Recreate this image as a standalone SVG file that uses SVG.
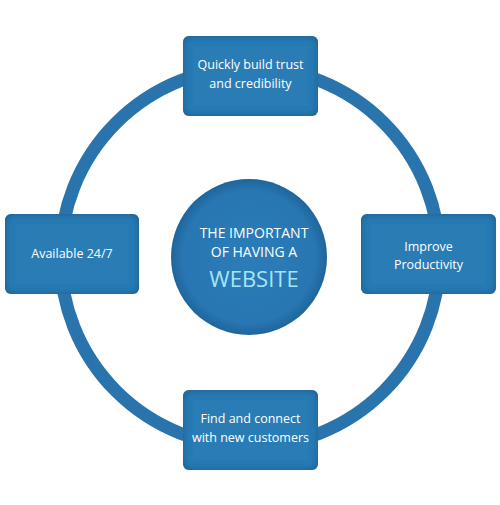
<svg xmlns="http://www.w3.org/2000/svg" width="500" height="505" viewBox="0 0 500 505">
  <defs>
    <filter id="inner" x="-10%" y="-10%" width="120%" height="120%">
      <feFlood flood-color="#174f7c" flood-opacity="0.9" result="c"/>
      <feComposite in="c" in2="SourceAlpha" operator="out" result="o"/>
      <feGaussianBlur in="o" stdDeviation="4" result="b"/>
      <feComposite in="b" in2="SourceAlpha" operator="in" result="s"/>
      <feMerge><feMergeNode in="SourceGraphic"/><feMergeNode in="s"/></feMerge>
    </filter>
    <radialGradient id="cg" cx="0.5" cy="0.5" r="0.5">
      <stop offset="0" stop-color="#2a7db8"/>
      <stop offset="0.85" stop-color="#2876b2"/>
      <stop offset="1" stop-color="#1f659c"/>
    </radialGradient>
  </defs>
  <style>
    .box { fill: #2a7bb5; filter: url(#inner); }
    .t { font-family: "Open Sans", "Noto Sans", sans-serif; fill: #ffffff; font-size: 12.5px; text-anchor: middle; }
    .ct { font-family: "Open Sans", "Noto Sans", sans-serif; fill: #ffffff; font-size: 14px; text-anchor: middle; }
    .web { font-family: "Open Sans", "Noto Sans", sans-serif; fill: #a6e4fb; font-size: 22px; text-anchor: middle; }
  </style>
  <rect width="500" height="505" fill="#ffffff"/>
  <g id="connectors">
    <circle cx="250" cy="257" r="189.5" fill="none" stroke="#2a74ae" stroke-width="13"/>
  </g>
  <g id="center">
    <circle cx="249" cy="257" r="78" fill="url(#cg)"/>
    <text class="ct" x="254" y="238">THE IMPORTANT</text>
    <text class="ct" x="254" y="257">OF HAVING A</text>
    <text class="web" x="254" y="287">WEBSITE</text>
  </g>
  <g id="top">
    <rect class="box" x="183" y="36" width="135" height="80" rx="6"/>
    <text class="t" x="250.5" y="69">Quickly build trust</text>
    <text class="t" x="250.5" y="88">and credibility</text>
  </g>
  <g id="left">
    <rect class="box" x="5" y="214" width="134" height="80" rx="6"/>
    <text class="t" x="72" y="258">Available 24/7</text>
  </g>
  <g id="right">
    <rect class="box" x="361" y="214" width="135" height="80" rx="6"/>
    <text class="t" x="428.5" y="251">Improve</text>
    <text class="t" x="428.5" y="269">Productivity</text>
  </g>
  <g id="bottom">
    <rect class="box" x="183" y="390" width="135" height="80" rx="6"/>
    <text class="t" x="250.5" y="423">Find and connect</text>
    <text class="t" x="250.5" y="442">with new customers</text>
  </g>
</svg>
